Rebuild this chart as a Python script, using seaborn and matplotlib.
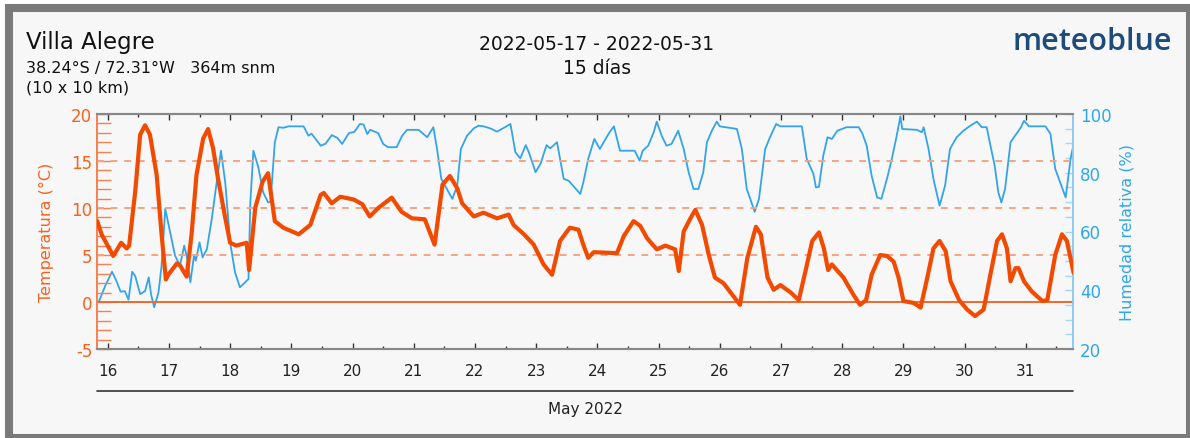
import seaborn as sns
import matplotlib
matplotlib.use("Agg")
import matplotlib.pyplot as plt
from matplotlib.patches import Rectangle
from matplotlib.lines import Line2D
from matplotlib.ticker import MultipleLocator, FixedLocator

# temperature (°C), time in days of May 2022
temp_day = [15.83, 15.90, 16.09, 16.22, 16.31, 16.35, 16.45, 16.53, 16.61, 16.69, 16.80, 16.88,
            16.95, 16.99, 17.13, 17.18, 17.29, 17.37, 17.45, 17.56, 17.64, 17.72, 17.80, 17.91,
            18.00, 18.10, 18.27, 18.31, 18.41, 18.53, 18.62, 18.73, 18.87, 19.12, 19.31, 19.48,
            19.53, 19.66, 19.80, 20.02, 20.16, 20.28, 20.42, 20.64, 20.80, 20.97, 21.18, 21.34,
            21.47, 21.59, 21.71, 21.79, 21.98, 22.14, 22.36, 22.55, 22.63, 22.80, 22.96, 23.12,
            23.26, 23.39, 23.55, 23.69, 23.77, 23.85, 23.94, 24.32, 24.43, 24.59, 24.70, 24.81,
            24.97, 25.11, 25.27, 25.33, 25.41, 25.52, 25.60, 25.71, 25.82, 25.92, 26.06, 26.20,
            26.33, 26.45, 26.59, 26.67, 26.78, 26.88, 26.99, 27.16, 27.29, 27.40, 27.51, 27.62,
            27.70, 27.77, 27.83, 28.02, 28.18, 28.29, 28.39, 28.48, 28.62, 28.73, 28.84, 28.92,
            29.00, 29.17, 29.28, 29.39, 29.49, 29.59, 29.69, 29.77, 29.91, 30.04, 30.17, 30.31,
            30.42, 30.53, 30.61, 30.69, 30.75, 30.83, 30.88, 30.97, 31.10, 31.27, 31.35, 31.48,
            31.59, 31.67, 31.78]
temp = [8.6, 7.2, 4.9, 6.3, 5.7, 6.0, 11.8, 17.8, 18.8, 17.8, 13.5, 7.2,
        2.4, 2.9, 4.1, 3.9, 2.7, 7.2, 13.5, 17.4, 18.4, 16.4, 13.2, 9.3,
        6.3, 6.0, 6.3, 3.4, 10.0, 12.8, 13.7, 8.6, 7.9, 7.2, 8.2, 11.4,
        11.6, 10.5, 11.2, 10.9, 10.4, 9.1, 10.0, 11.1, 9.6, 8.9, 8.8, 6.1,
        12.5, 13.4, 12.1, 10.5, 9.1, 9.5, 8.9, 9.3, 8.2, 7.2, 6.1, 4.0,
        2.9, 6.5, 7.9, 7.7, 6.1, 4.7, 5.3, 5.2, 7.0, 8.6, 8.1, 6.8,
        5.6, 6.0, 5.6, 3.3, 7.5, 8.9, 9.8, 8.2, 5.0, 2.6, 2.0, 0.8,
        -0.3, 4.7, 8.0, 7.2, 2.6, 1.3, 1.8, 1.0, 0.2, 3.3, 6.5, 7.4,
        5.7, 3.4, 4.0, 2.6, 0.8, -0.3, 0.2, 2.9, 5.0, 4.9, 4.3, 2.6,
        0.1, -0.1, -0.6, 2.6, 5.7, 6.5, 5.4, 2.2, 0.2, -0.8, -1.5, -0.8,
        2.9, 6.5, 7.2, 5.7, 2.2, 3.6, 3.6, 2.2, 1.1, 0.1, 0.2, 5.0,
        7.2, 6.5, 3.1]

# relative humidity (%)
hum_day = [15.85, 15.96, 16.07, 16.14, 16.21, 16.28, 16.34, 16.40, 16.45, 16.53, 16.61, 16.67,
           16.71, 16.76, 16.83, 16.88, 16.94, 17.02, 17.10, 17.18, 17.25, 17.30, 17.35, 17.41,
           17.44, 17.50, 17.55, 17.62, 17.70, 17.78, 17.85, 17.92, 18.00, 18.08, 18.16, 18.30,
           18.33, 18.38, 18.46, 18.54, 18.62, 18.66, 18.73, 18.79, 18.87, 18.95, 19.20, 19.28,
           19.33, 19.48, 19.56, 19.66, 19.75, 19.83, 19.94, 20.03, 20.12, 20.18, 20.24, 20.29,
           20.42, 20.50, 20.58, 20.72, 20.81, 20.89, 21.08, 21.22, 21.32, 21.38, 21.45, 21.54,
           21.63, 21.71, 21.77, 21.87, 21.98, 22.06, 22.14, 22.25, 22.36, 22.49, 22.58, 22.66,
           22.74, 22.83, 22.88, 22.99, 23.07, 23.17, 23.23, 23.34, 23.45, 23.53, 23.72, 23.77,
           23.85, 23.95, 24.04, 24.15, 24.20, 24.27, 24.37, 24.48, 24.61, 24.69, 24.74, 24.83,
           24.92, 24.97, 25.05, 25.13, 25.21, 25.32, 25.41, 25.49, 25.57, 25.65, 25.73, 25.79,
           25.87, 25.95, 26.00, 26.28, 26.36, 26.44, 26.57, 26.64, 26.74, 26.82, 26.92, 26.99,
           27.34, 27.42, 27.53, 27.57, 27.62, 27.69, 27.76, 27.83, 27.92, 28.07, 28.27, 28.33,
           28.40, 28.48, 28.57, 28.64, 28.73, 28.81, 28.89, 28.95, 28.98, 29.22, 29.30, 29.33,
           29.41, 29.49, 29.59, 29.68, 29.76, 29.87, 29.98, 30.09, 30.20, 30.28, 30.36, 30.41,
           30.49, 30.55, 30.60, 30.66, 30.75, 30.83, 30.92, 30.97, 31.05, 31.32, 31.40, 31.48,
           31.57, 31.65, 31.73, 31.78]
hum = [35.9, 41.5, 46.3, 43.3, 39.5, 39.7, 36.8, 46.3, 44.8, 38.7, 39.7, 44.4,
       38.4, 34.2, 39.3, 48.4, 67.7, 59.7, 51.8, 48.4, 55.2, 50.7, 42.7, 51.8,
       50.1, 56.3, 51.2, 54.0, 64.3, 76.7, 87.5, 76.7, 56.3, 46.1, 41.0, 43.8,
       69.9, 87.5, 81.9, 73.3, 69.9, 70.1, 90.4, 95.5, 95.3, 95.8, 95.8, 92.6,
       93.3, 89.2, 89.9, 92.8, 91.9, 89.8, 93.5, 93.9, 96.6, 96.4, 93.2, 94.6,
       93.5, 89.8, 88.7, 88.7, 92.6, 94.6, 94.6, 92.1, 95.5, 88.1, 77.9, 74.5,
       71.1, 75.6, 88.1, 92.6, 95.1, 96.0, 95.8, 95.1, 94.0, 95.5, 96.6, 87.0,
       84.9, 89.4, 87.0, 80.2, 83.0, 89.4, 88.3, 90.4, 77.9, 77.3, 72.8, 76.7,
       84.7, 91.5, 88.1, 92.1, 93.8, 95.8, 87.5, 87.5, 87.5, 84.1, 87.5, 89.2,
       93.8, 97.4, 92.6, 89.2, 89.8, 94.3, 88.1, 80.2, 74.5, 74.5, 80.2, 90.4,
       94.3, 97.4, 95.8, 94.9, 88.1, 74.5, 66.7, 71.1, 88.0, 92.1, 96.6, 95.8,
       95.8, 84.7, 79.6, 75.0, 75.2, 85.8, 92.1, 91.5, 94.3, 95.5, 95.5, 93.3,
       89.2, 79.0, 71.6, 71.1, 77.9, 84.7, 92.6, 99.2, 94.9, 94.6, 93.8, 95.5,
       88.1, 77.9, 68.8, 75.6, 88.1, 92.1, 94.3, 96.0, 97.4, 95.5, 95.5, 90.4,
       82.5, 73.3, 69.9, 74.5, 90.4, 92.8, 95.5, 97.7, 95.8, 95.8, 93.3, 81.3,
       76.2, 71.6, 84.7, 89.8]

day_ticks = list(range(16, 32))
day_labels = [str(d) for d in day_ticks]
temp_ticks = [-5, 0, 5, 10, 15, 20]
hum_ticks = [20, 40, 60, 80, 100]

W, H = 1190, 439
BG = "#f7f7f7"
ORANGE = "#f24a00"
ORANGE_TXT = "#f7621e"
BLUE = "#33a4eb"
BLUE_TXT = "#2fa6ef"

sns.set_style("white")
plt.rcParams["font.family"] = ["DejaVu Sans"]

fig = plt.figure(figsize=(W / 100, H / 100), dpi=100, facecolor="white")

# frame
fig.add_artist(Rectangle((8.5 / W, 0), (W - 8.5) / W, (H - 9) / H, transform=fig.transFigure,
                         facecolor=BG, edgecolor="#7a7a7a", linewidth=5.8, zorder=0))

ax = fig.add_axes([97 / W, 1 - 350 / H, 976 / W, 235 / H])
ax2 = ax.twinx()
ax.set_zorder(ax2.get_zorder() + 1)
ax.patch.set_visible(False)
ax2.patch.set_facecolor(BG)

# humidity (behind)
sns.lineplot(x=hum_day, y=hum, ax=ax2, color=BLUE, linewidth=1.3, sort=False)
# temperature
for lv in [5, 10, 15]:
    ax.axhline(lv, color="#f6a382", linewidth=1.4, linestyle=(0, (3.5, 3.5)), zorder=1)
ax.axhline(0, color="#f4662a", linewidth=1.4, zorder=1)
sns.lineplot(x=temp_day, y=temp, ax=ax, color=ORANGE, linewidth=3.0, sort=False, zorder=3)

ax.set_xlim(15.825, 31.77)
ax.set_ylim(-5, 20)
ax2.set_ylim(20, 100)

ax.set_xticks(day_ticks)
ax.set_xticklabels(day_labels)
ax.xaxis.set_minor_locator(FixedLocator([d + 0.5 for d in range(15, 32)]))
ax.tick_params(axis="x", which="both", direction="in", top=True, bottom=True,
               color="#333333", labelsize=11, labelcolor="#222222", pad=10)
ax.tick_params(axis="x", which="major", length=4, width=1)
ax.tick_params(axis="x", which="minor", length=2.5, width=1)

ax.set_yticks(temp_ticks)
ax.set_yticklabels([str(t) for t in temp_ticks])
ax.yaxis.set_minor_locator(MultipleLocator(1))
ax.tick_params(axis="y", which="both", direction="in", length=10, width=1,
               color="#f7804e", labelcolor=ORANGE_TXT, labelsize=12, pad=3.5)

ax2.set_yticks(hum_ticks)
ax2.set_yticklabels([str(h) for h in hum_ticks])
ax2.yaxis.set_minor_locator(MultipleLocator(5))
ax2.tick_params(axis="y", which="both", direction="in", length=6, width=1,
                color="#a6d6f5", labelcolor=BLUE_TXT, labelsize=12, pad=5)

ax.set_xlabel("")
ax.set_ylabel("Temperatura (°C)", color=ORANGE_TXT, fontsize=11.5, labelpad=12)
ax2.set_ylabel("Humedad relativa (%)", color=BLUE_TXT, fontsize=11.5, labelpad=6)

for a in (ax, ax2):
    a.spines["top"].set_color("#888888")
    a.spines["bottom"].set_color("#888888")
    a.spines["top"].set_linewidth(1.5)
    a.spines["bottom"].set_linewidth(1.5)
    a.spines["left"].set_color("#f7804e")
    a.spines["right"].set_color("#8ccbf3")
    a.spines["left"].set_linewidth(1.2)
    a.spines["right"].set_linewidth(1.2)
ax2.tick_params(axis="x", which="both", length=0)

# line under dates and month label
fig.add_artist(Line2D([97 / W, 1073 / W], [1 - 392 / H] * 2, transform=fig.transFigure,
                      color="#333333", linewidth=1.2))
fig.text(585 / W, 1 - 410 / H, "May 2022", ha="center", va="center", fontsize=11, color="#222222")

# header
fig.text(26 / W, 1 - 42 / H, "Villa Alegre", ha="left", va="center", fontsize=16.5, color="#111111")
fig.text(26 / W, 1 - 68 / H, "38.24°S / 72.31°W   364m snm", ha="left", va="center",
         fontsize=11.5, color="#111111")
fig.text(26 / W, 1 - 88 / H, "(10 x 10 km)", ha="left", va="center", fontsize=11.5, color="#111111")
fig.text(597 / W, 1 - 45 / H, "2022-05-17 - 2022-05-31", ha="center", va="center",
         fontsize=13.5, color="#111111")
fig.text(597 / W, 1 - 68 / H, "15 días", ha="center", va="center", fontsize=13.5, color="#111111")
fig.text(1172 / W, 1 - 42 / H, "meteoblue", ha="right", va="center", fontsize=22,
         family=["Open Sans", "DejaVu Sans"], fontweight="semibold", color="#1d4b7b")

fig.savefig("out.png", dpi=100, facecolor=fig.get_facecolor())
